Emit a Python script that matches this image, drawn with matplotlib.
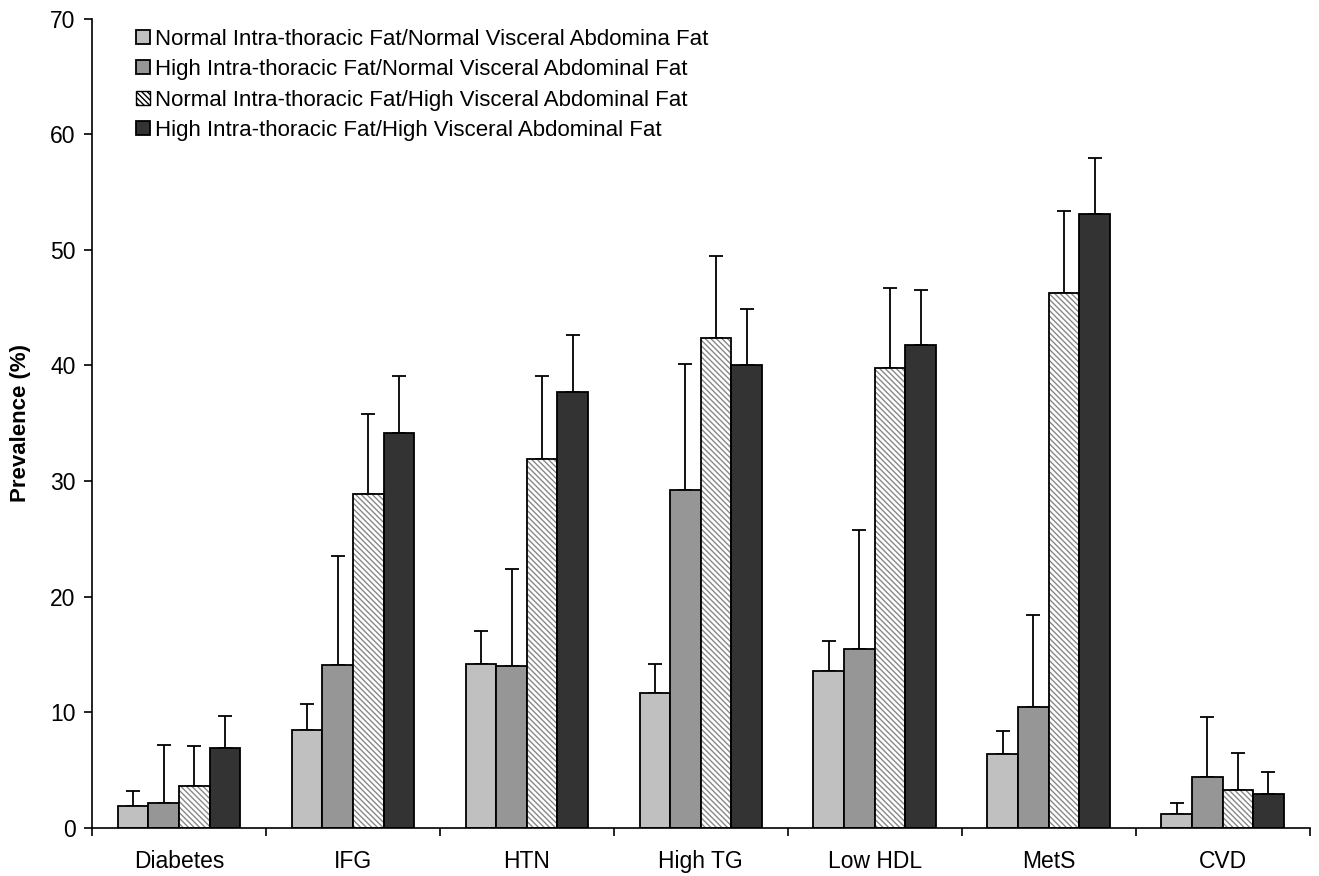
import matplotlib.pyplot as plt
import numpy as np

plt.rcParams['font.family'] = ['Liberation Sans', 'DejaVu Sans']

categories = ['Diabetes', 'IFG', 'HTN', 'High TG', 'Low HDL', 'MetS', 'CVD']
labels = ['Normal Intra-thoracic Fat/Normal Visceral Abdomina Fat',
          'High Intra-thoracic Fat/Normal Visceral Abdominal Fat',
          'Normal Intra-thoracic Fat/High Visceral Abdominal Fat',
          'High Intra-thoracic Fat/High Visceral Abdominal Fat']

# bar heights
nn = [1.9, 8.5, 14.2, 11.7, 13.6, 6.4, 1.2]
hn = [2.2, 14.1, 14.0, 29.2, 15.5, 10.5, 4.4]
nh = [3.6, 28.9, 31.9, 42.4, 39.8, 46.3, 3.3]
hh = [6.9, 34.2, 37.7, 40.0, 41.8, 53.1, 2.9]

# top of the error bars
nn_top = [3.2, 10.7, 17.0, 14.2, 16.2, 8.4, 2.2]
hn_top = [7.2, 23.5, 22.4, 40.1, 25.8, 18.4, 9.6]
nh_top = [7.1, 35.8, 39.1, 49.5, 46.7, 53.4, 6.5]
hh_top = [9.7, 39.1, 42.6, 44.9, 46.5, 57.9, 4.8]

series = [(nn, nn_top), (hn, hn_top), (nh, nh_top), (hh, hh_top)]
colors = ['#c0c0c0', '#969696', 'white', '#333333']
hatches = [None, None, '\\\\\\\\\\\\', None]

fig = plt.figure(figsize=(13.19, 8.76), dpi=100)
ax = fig.add_axes([0.0698, 0.0548, 0.923, 0.924])

x = np.arange(len(categories))
w = 0.176
for i, ((vals, tops), c, h) in enumerate(zip(series, colors, hatches)):
    pos = x + (i - 1.5) * w
    err = np.array(tops) - np.array(vals)
    ax.errorbar(pos, vals, yerr=[np.zeros(len(vals)), err], fmt='none',
                ecolor='black', elinewidth=1.3, capsize=5, capthick=1.3, zorder=1)
    if h:
        ax.bar(pos, vals, w, color=c, edgecolor='#888888', hatch=h, linewidth=0, zorder=2)
        ax.bar(pos, vals, w, fill=False, edgecolor='black', linewidth=1.3, zorder=3)
        ax.bar([0], [0], 0, color=c, edgecolor='black', hatch=h, linewidth=1,
               label=labels[i])
    else:
        ax.bar(pos, vals, w, color=c, edgecolor='black', linewidth=1.3, zorder=2,
               label=labels[i])

ax.set_xlim(-0.5, 6.5)
ax.set_ylim(0, 70)
ax.set_yticks(range(0, 71, 10))
ax.set_xticks(x)
ax.set_xticklabels(categories, fontsize=16.5)
ax.set_xticks(np.arange(-0.5, 7, 1), minor=True)
ax.tick_params(axis='x', which='major', length=0, pad=16)
ax.tick_params(axis='x', which='minor', length=6, width=1.2, direction='out')
ax.tick_params(axis='y', length=6, width=1.2, labelsize=16.5, pad=6)
ax.spines['top'].set_visible(False)
ax.spines['right'].set_visible(False)
ax.spines['left'].set_linewidth(1.2)
ax.spines['bottom'].set_linewidth(1.2)
ax.set_ylabel('Prevalence (%)', fontsize=16, fontweight='bold')
ax.yaxis.set_label_coords(-0.05, 0.5)

ax.legend(loc='upper left', bbox_to_anchor=(0.02, 1.012), frameon=False,
          fontsize=16, handlelength=0.6, handleheight=0.6, handletextpad=0.25,
          labelspacing=0.42)

fig.savefig('out.png', dpi=100)
